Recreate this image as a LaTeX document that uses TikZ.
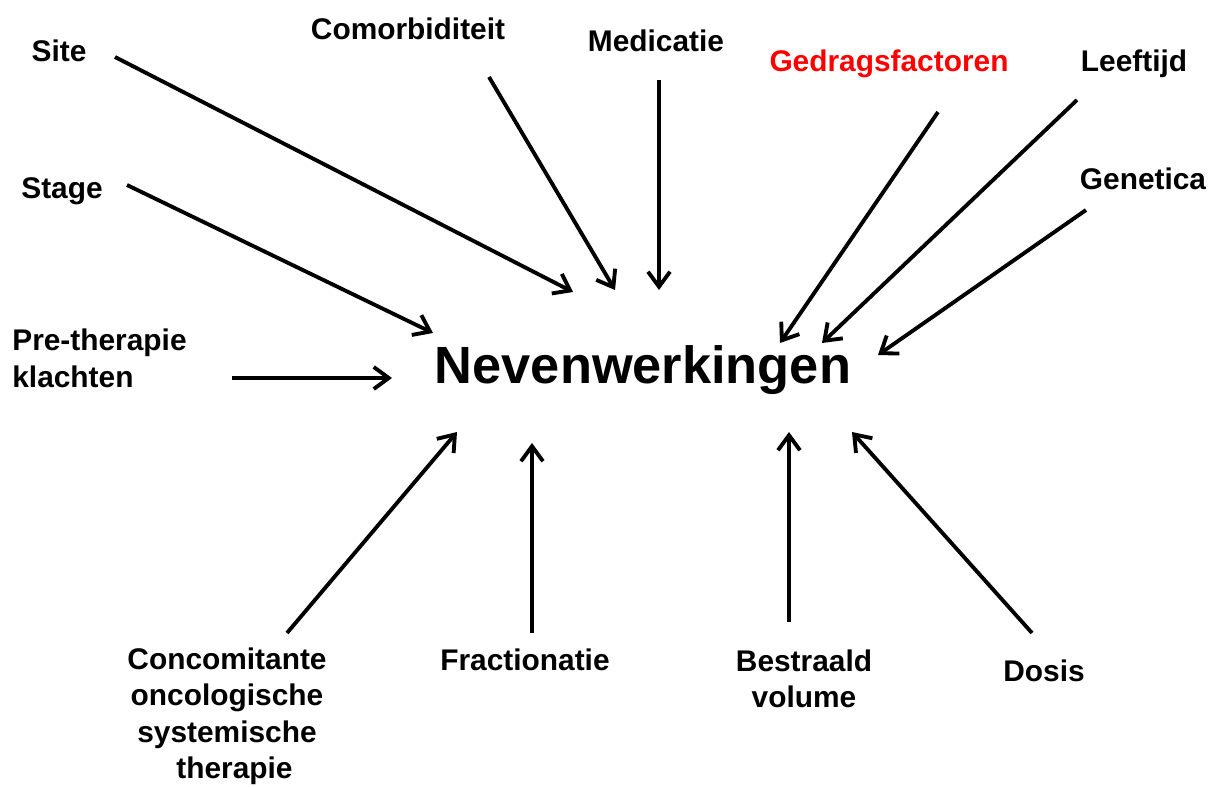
\documentclass[tikz,border=0pt]{standalone}
\usepackage{fontspec}
\setmainfont{Liberation Sans}
\usepackage{xcolor}
\usetikzlibrary{positioning,arrows.meta}

\begin{document}
\begin{tikzpicture}[
  x=0.02cm, y=-0.02cm,
  lbl/.style={font=\fontsize{17}{20.8}\selectfont\bfseries, inner sep=0pt,
              align=center, anchor=base},
  main/.style={font=\fontsize{29.8}{34}\selectfont\bfseries, inner sep=0pt,
               anchor=base},
  arrow/.style={-{Straight Barb[length=0.3cm,width=0.44cm]}, line width=2.2pt}
]
  \useasboundingbox (0,0) rectangle (1213,787);

  \node[main] (nw) at (643,383) {Nevenwerkingen};

  % factors round the centre
  \node[lbl] (site)   at (59,62)   {Site};
  \node[lbl] (como)   at (408,40)  {Comorbiditeit};
  \node[lbl] (medi)   at (656,52)  {Medicatie};
  \node[lbl, text=red] (gedrag) at (889,72) {Gedragsfactoren};
  \node[lbl] (leef)   at (1134,72) {Leeftijd};
  \node[lbl] (gene)   at (1143,190) {Genetica};
  \node[lbl] (stage)  at (62,199)  {Stage};
  \node[lbl, align=left, anchor=north west] (pre) at (12,329) {Pre-therapie\\klachten};
  \node[lbl, anchor=north] (conco) at (227,647) {Concomitante\\oncologische\\systemische\\\hspace{0.5em}therapie};
  \node[lbl] (frac)   at (525,670) {Fractionatie};
  \node[lbl, anchor=north] (bestr) at (804,649) {Bestraald\\volume};
  \node[lbl] (dosis)  at (1044,681) {Dosis};

  % arrow ends
  \coordinate (s1) at (115,57);   \coordinate (e1) at (573,292);
  \coordinate (s2) at (489,77);   \coordinate (e2) at (615,290);
  \coordinate (s3) at (659,80);   \coordinate (e3) at (659,290);
  \coordinate (s4) at (938,112);  \coordinate (e4) at (780,343);
  \coordinate (s5) at (1077,100); \coordinate (e5) at (822,343);
  \coordinate (s6) at (1086,210); \coordinate (e6) at (878,355);
  \coordinate (s7) at (127,185);  \coordinate (e7) at (433,333);
  \coordinate (s8) at (232,378);  \coordinate (e8) at (392,378);
  \coordinate (s9) at (287,633);  \coordinate (e9) at (457,432);
  \coordinate (s10) at (532,633); \coordinate (e10) at (532,443);
  \coordinate (s11) at (789,622); \coordinate (e11) at (789,432);
  \coordinate (s12) at (1032,633); \coordinate (e12) at (852,432);

  \foreach \i in {1,...,12}
    \draw[arrow] (s\i) -- (e\i);
\end{tikzpicture}
\end{document}
